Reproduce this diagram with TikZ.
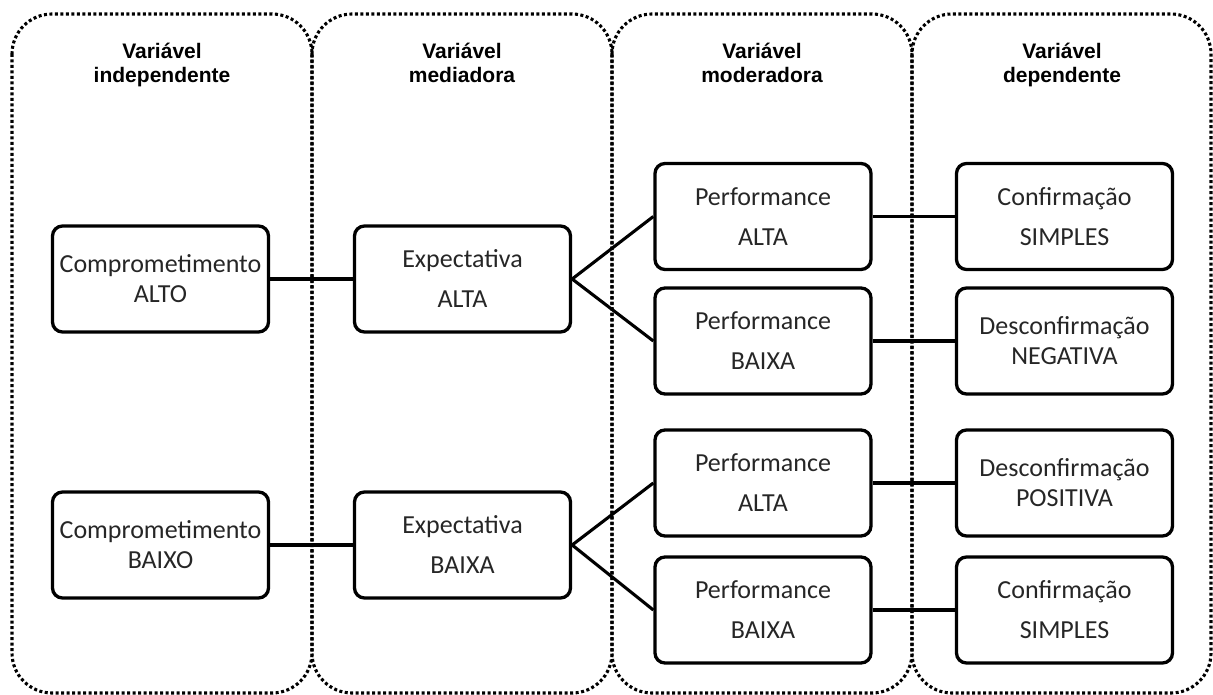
\documentclass[tikz,border=0pt]{standalone}
\usepackage{fontspec}
\setmainfont{Carlito}
\newfontfamily\headfont{Liberation Sans}
\begin{document}
\begin{tikzpicture}[x=1pt,y=-1pt,
  panel/.style={draw, line width=3.1pt, dash pattern=on 3pt off 2.5pt, rounded corners=40pt},
  box/.style={draw, line width=3.3pt, rounded corners=10pt, minimum width=216pt,
    minimum height=106pt, align=center, inner sep=0pt, text=black!85,
    font=\fontsize{26}{40}\selectfont},
  tight/.style={font=\fontsize{26}{30}\selectfont},
  head/.style={align=center, inner sep=0pt, anchor=north,
    font=\headfont\bfseries\fontsize{21}{24}\selectfont},
  link/.style={line width=3.1pt}]
\useasboundingbox (0,0) rectangle (1213,695);

% dotted column frames
\draw[panel] (12,14) rectangle (312,693);
\draw[panel] (312,14) rectangle (612,693);
\draw[panel] (612,14) rectangle (912,693);
\draw[panel] (912,14) rectangle (1211,693);

% column headings
\node[head] (h1) at (162,43) {Variável\\independente};
\node[head] (h2) at (462,43) {Variável\\mediadora};
\node[head] (h3) at (762,43) {Variável\\moderadora};
\node[head] (h4) at (1062,43) {Variável\\dependente};

% upper branch
\node[box,tight] (ca) at (160.5,279) {Comprometimento\\ALTO};
\node[box] (ea) at (462.5,279) {Expectativa\\ALTA};
\node[box] (pa1) at (763,216.5) {Performance\\ALTA};
\node[box] (pb1) at (763,341) {Performance\\BAIXA};
\node[box] (cs1) at (1064.5,216.5) {Confirmação\\SIMPLES};
\node[box,tight] (dn) at (1064.5,341) {Desconfirmação\\NEGATIVA};

% lower branch
\node[box,tight] (cb) at (160.5,545) {Comprometimento\\BAIXO};
\node[box] (eb) at (462.5,545) {Expectativa\\BAIXA};
\node[box] (pa2) at (763,483) {Performance\\ALTA};
\node[box] (pb2) at (763,610) {Performance\\BAIXA};
\node[box,tight] (dp) at (1064.5,483) {Desconfirmação\\POSITIVA};
\node[box] (cs2) at (1064.5,610) {Confirmação\\SIMPLES};

% connectors
\draw[link] (ca.east) -- (ea.west);
\draw[link] (ea.east) -- (pa1.west);
\draw[link] (ea.east) -- (pb1.west);
\draw[link] (pa1.east) -- (cs1.west);
\draw[link] (pb1.east) -- (dn.west);
\draw[link] (cb.east) -- (eb.west);
\draw[link] (eb.east) -- (pa2.west);
\draw[link] (eb.east) -- (pb2.west);
\draw[link] (pa2.east) -- (dp.west);
\draw[link] (pb2.east) -- (cs2.west);
\end{tikzpicture}
\end{document}
